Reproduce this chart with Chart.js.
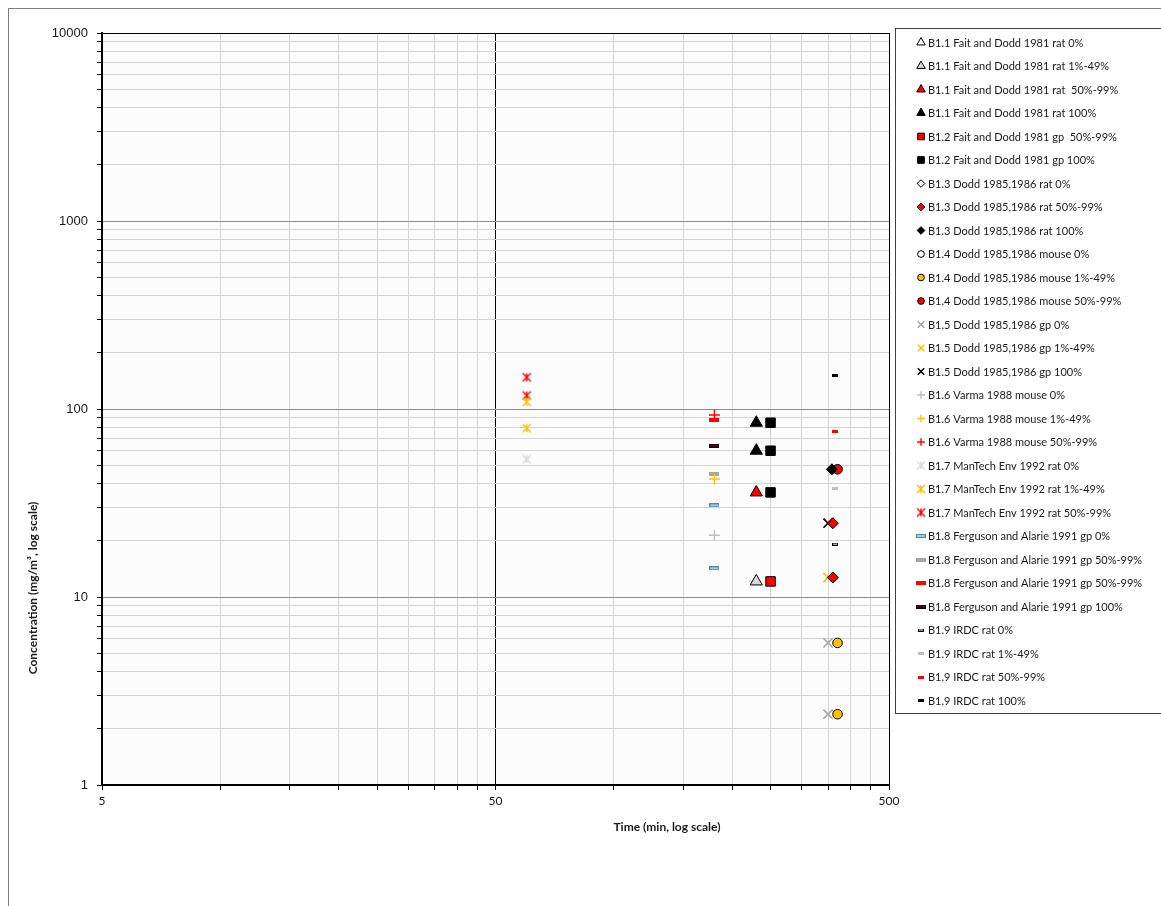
<!DOCTYPE html>
<html>
<head>
<meta charset="utf-8">
<title>Concentration vs time</title>
<script src="https://cdn.jsdelivr.net/npm/chart.js@4.4.1/dist/chart.umd.min.js"></script>
<style>
  html, body { margin: 0; padding: 0; background: #fff; }
  #frame { position: absolute; left: 8px; top: 8px; width: 1160px; height: 910px; border: 1px solid #7f7f7f; box-sizing: border-box; }
  #wrap { position: absolute; left: 0; top: 0; width: 1161px; height: 906px; }
</style>
</head>
<body>
<div id="frame"></div>
<div id="wrap"><canvas id="chart" width="1161" height="906"></canvas></div>
<script>
/* ── Data: [time (min), concentration (mg/m3)] ── */
const faitRat0 = [];
const faitRat1to49 = [[230, 12.1]];
const faitRat50to99 = [[230, 36]];
const faitRat100 = [[230, 84.5], [230, 60]];
const faitGp50to99 = [[250, 12.1]];
const faitGp100 = [[250, 84.5], [250, 60], [250, 36]];
const doddRat0 = [];
const doddRat50to99 = [[360, 24.7], [360, 12.7]];
const doddRat100 = [[358, 47.8]];
const doddMouse0 = [];
const doddMouse1to49 = [[370, 5.7], [370, 2.38]];
const doddMouse50to99 = [[370, 47.8]];
const doddGp0 = [[350, 5.7], [350, 2.38]];
const doddGp1to49 = [[350, 12.7]];
const doddGp100 = [[350, 24.7]];
const varmaMouse0 = [[180, 21.3]];
const varmaMouse1to49 = [[180, 42.4]];
const varmaMouse50to99 = [[180, 93]];
const mantechRat0 = [[60, 54]];
const mantechRat1to49 = [[60, 109], [60, 79]];
const mantechRat50to99 = [[60, 147.5], [60, 118]];
const fergGp0 = [[180, 30.7], [180, 14.2]];
const fergGp50to99Grey = [[180, 45]];
const fergGp50to99 = [[180, 87.4]];
const fergGp100 = [[180, 63.8]];
const irdcRat0 = [[365, 19.1]];
const irdcRat1to49 = [[365, 37.9]];
const irdcRat50to99 = [[365, 75.7]];
const irdcRat100 = [[365, 151]];

const seriesLabels = [
  'B1.1 Fait and Dodd 1981 rat 0%',
  'B1.1 Fait and Dodd 1981 rat 1%-49%',
  'B1.1 Fait and Dodd 1981 rat  50%-99%',
  'B1.1 Fait and Dodd 1981 rat 100%',
  'B1.2 Fait and Dodd 1981 gp  50%-99%',
  'B1.2 Fait and Dodd 1981 gp 100%',
  'B1.3 Dodd 1985,1986 rat 0%',
  'B1.3 Dodd 1985,1986 rat 50%-99%',
  'B1.3 Dodd 1985,1986 rat 100%',
  'B1.4 Dodd 1985,1986 mouse 0%',
  'B1.4 Dodd 1985,1986 mouse 1%-49%',
  'B1.4 Dodd 1985,1986 mouse 50%-99%',
  'B1.5 Dodd 1985,1986 gp 0%',
  'B1.5 Dodd 1985,1986 gp 1%-49%',
  'B1.5 Dodd 1985,1986 gp 100%',
  'B1.6 Varma 1988 mouse 0%',
  'B1.6 Varma 1988 mouse 1%-49%',
  'B1.6 Varma 1988 mouse 50%-99%',
  'B1.7 ManTech Env 1992 rat 0%',
  'B1.7 ManTech Env 1992 rat 1%-49%',
  'B1.7 ManTech Env 1992 rat 50%-99%',
  'B1.8 Ferguson and Alarie 1991 gp 0%',
  'B1.8 Ferguson and Alarie 1991 gp 50%-99%',
  'B1.8 Ferguson and Alarie 1991 gp 50%-99%',
  'B1.8 Ferguson and Alarie 1991 gp 100%',
  'B1.9 IRDC rat 0%',
  'B1.9 IRDC rat 1%-49%',
  'B1.9 IRDC rat 50%-99%',
  'B1.9 IRDC rat 100%',
];

const seriesData = [
  faitRat0, faitRat1to49, faitRat50to99, faitRat100, faitGp50to99, faitGp100,
  doddRat0, doddRat50to99, doddRat100, doddMouse0, doddMouse1to49, doddMouse50to99,
  doddGp0, doddGp1to49, doddGp100, varmaMouse0, varmaMouse1to49, varmaMouse50to99,
  mantechRat0, mantechRat1to49, mantechRat50to99,
  fergGp0, fergGp50to99Grey, fergGp50to99, fergGp100,
  irdcRat0, irdcRat1to49, irdcRat50to99, irdcRat100,
];

const xTicks = [5, 10, 15, 20, 25, 30, 35, 40, 45, 50, 100, 150, 200, 250, 300, 350, 400, 450, 500];
const xTickLabels = [5, 50, 500];
const yTicks = [];
[1, 10, 100, 1000].forEach(d => { for (let k = 1; k < 10; k++) yTicks.push(k * d); });
yTicks.push(10000);
const yTickLabels = [1, 10, 100, 1000, 10000];

// Excel style dash markers as little canvases
function dash(w, h, fill, stroke) {
  const c = document.createElement('canvas');
  c.width = w + 2;
  c.height = h + 2;
  const g = c.getContext('2d');
  g.fillStyle = fill;
  g.fillRect(1, 1, w, h);
  g.strokeStyle = stroke;
  g.lineWidth = 1;
  g.strokeRect(0.5, 0.5, w + 1, h + 1);
  return c;
}

// Excel "star": an X with a vertical stroke through it
function star(color, size) {
  const c = document.createElement('canvas');
  c.width = size + 2;
  c.height = size + 2;
  const g = c.getContext('2d');
  const a = 1, b = size + 1, m = (size + 2) / 2;
  g.strokeStyle = color;
  g.lineWidth = 1.4;
  g.beginPath();
  g.moveTo(a, a); g.lineTo(b, b);
  g.moveTo(b, a); g.lineTo(a, b);
  g.moveTo(m, a); g.lineTo(m, b);
  g.stroke();
  return c;
}

const RED = '#ff0000', ORANGE = '#ffc000', BLACK = '#000000';
// [pointStyle, radius, fill, border, borderWidth]
const markers = [
  ['triangle', 7, '#ffffff', BLACK, 1],
  ['triangle', 7, '#d9d9d9', BLACK, 1],
  ['triangle', 7, RED, BLACK, 1],
  ['triangle', 7, BLACK, BLACK, 1],
  ['rect', 6.7, RED, BLACK, 1],
  ['rect', 6.7, BLACK, BLACK, 1],
  ['rectRot', 5.5, '#ffffff', BLACK, 1],
  ['rectRot', 5.5, RED, BLACK, 1],
  ['rectRot', 5.5, BLACK, BLACK, 1],
  ['circle', 4.8, '#ffffff', BLACK, 1],
  ['circle', 4.8, ORANGE, BLACK, 1],
  ['circle', 4.8, RED, BLACK, 1],
  ['crossRot', 6.5, '#a6a6a6', '#a6a6a6', 1.6],
  ['crossRot', 6.5, ORANGE, ORANGE, 1.6],
  ['crossRot', 6.5, BLACK, BLACK, 1.6],
  ['cross', 5.5, '#bfbfbf', '#bfbfbf', 1.4],
  ['cross', 5.5, ORANGE, ORANGE, 1.4],
  ['cross', 5.5, RED, RED, 1.4],
  [star('#d9d9d9', 8), 5, '#d9d9d9', '#d9d9d9', 1],
  [star(ORANGE, 8), 5, ORANGE, ORANGE, 1],
  [star(RED, 8), 5, RED, RED, 1],
  [dash(8, 2, '#9ccbdb', '#4f8fa8'), 5, '#9ccbdb', '#4f8fa8', 1],
  [dash(8, 2, '#a6a6a6', '#a6a6a6'), 5, '#a6a6a6', '#a6a6a6', 1],
  [dash(8, 2, RED, RED), 5, RED, RED, 1],
  [dash(8, 2, '#4a0a0a', '#1a0000'), 5, '#4a0a0a', '#1a0000', 1],
  [dash(4, 1, '#ffffff', BLACK), 4, '#ffffff', BLACK, 1],
  [dash(4, 1, '#bfbfbf', '#bfbfbf'), 4, '#bfbfbf', '#bfbfbf', 1],
  [dash(4, 1, RED, RED), 4, RED, RED, 1],
  [dash(4, 1, BLACK, BLACK), 4, BLACK, BLACK, 1],
];

const datasets = seriesLabels.map((label, i) => {
  const [style, r, fill, border, bw] = markers[i];
  return {
    label,
    data: seriesData[i].map(([x, y]) => ({ x, y })),
    showLine: false,
    pointStyle: style,
    pointRadius: r,
    pointHoverRadius: r,
    pointBackgroundColor: fill,
    pointBorderColor: border,
    pointBorderWidth: bw,
    backgroundColor: fill,
    borderColor: border,
  };
});

// Legend in a framed box on the right, drawn like Excel's
const boxedLegend = {
  id: 'boxedLegend',
  afterDraw(chart) {
    const ctx = chart.ctx;
    ctx.save();
    ctx.strokeStyle = '#3f3f3f';
    ctx.lineWidth = 1;
    ctx.strokeRect(895.5, 28.5, 270, 685);
    ctx.font = '11px Lato';
    ctx.textBaseline = 'middle';
    chart.data.datasets.forEach((ds, i) => {
      const y = 42.5 + i * 23.5;
      const [style, r, fill, border, bw] = markers[i];
      ctx.fillStyle = fill;
      ctx.strokeStyle = border;
      ctx.lineWidth = bw;
      Chart.helpers.drawPoint(ctx, { pointStyle: style, radius: r * 0.7, borderWidth: bw, rotation: 0 }, 921, y);
      ctx.fillStyle = '#1a1a1a';
      ctx.fillText(ds.label, 928, y + 0.5);
    });
    ctx.restore();
  },
};

// Axis titles sit off-centre in the original, so they are placed here
const axisTitles = {
  id: 'axisTitles',
  afterDraw(chart) {
    const ctx = chart.ctx;
    ctx.save();
    ctx.fillStyle = '#1a1a1a';
    ctx.font = 'bold 12px Lato';
    ctx.textAlign = 'center';
    ctx.textBaseline = 'middle';
    ctx.fillText('Time (min, log scale)', 667, 827);
    ctx.translate(33, 588);
    ctx.rotate(-Math.PI / 2);
    ctx.fillText('Concentration (mg/m³, log scale)', 0, 0);
    ctx.restore();
  },
};

const plotBackground = {
  id: 'plotBackground',
  beforeDraw(chart) {
    const { ctx, chartArea: a } = chart;
    ctx.save();
    ctx.fillStyle = '#fcfcfc';
    ctx.fillRect(a.left, a.top, a.right - a.left, a.bottom - a.top);
    ctx.restore();
  },
};

new Chart(document.getElementById('chart'), {
  type: 'scatter',
  data: { datasets },
  options: {
    responsive: false,
    animation: false,
    events: [],
    layout: { padding: { left: 42, top: 33, right: 272, bottom: 81 } },
    plugins: { legend: { display: false }, tooltip: { enabled: false } },
    scales: {
      x: {
        type: 'logarithmic',
        min: 5,
        max: 500,
        afterBuildTicks: scale => { scale.ticks = xTicks.map(v => ({ value: v })); },
        afterFit: scale => { scale.height = 40; },
        ticks: {
          autoSkip: false,
          maxRotation: 0,
          padding: 4,
          color: '#1a1a1a',
          font: { family: 'Lato', size: 12 },
          callback: v => (xTickLabels.includes(v) ? String(v) : ''),
        },
        grid: {
          color: c => (c.tick && (c.tick.value === 50 || c.tick.value === 500) ? '#000' : '#d4d4d4'),
          tickColor: '#000',
          tickLength: 5,
        },
        border: { color: '#000', width: 2 },
      },
      y: {
        type: 'logarithmic',
        min: 1,
        max: 10000,
        afterBuildTicks: scale => { scale.ticks = yTicks.map(v => ({ value: v })); },
        afterFit: scale => { scale.width = 60; },
        ticks: {
          autoSkip: false,
          padding: 9,
          color: '#1a1a1a',
          font: { family: 'Liberation Sans', size: 13 },
          callback: v => (yTickLabels.includes(v) ? String(v) : ''),
        },
        grid: {
          color: c => {
            const v = c.tick && c.tick.value;
            if (v === 10000) return '#000';
            return yTickLabels.includes(v) ? '#8c8c8c' : '#d4d4d4';
          },
          tickColor: '#000',
          tickLength: 5,
        },
        border: { color: '#000', width: 2 },
      },
    },
  },
  plugins: [plotBackground, boxedLegend, axisTitles],
});
</script>
</body>
</html>
